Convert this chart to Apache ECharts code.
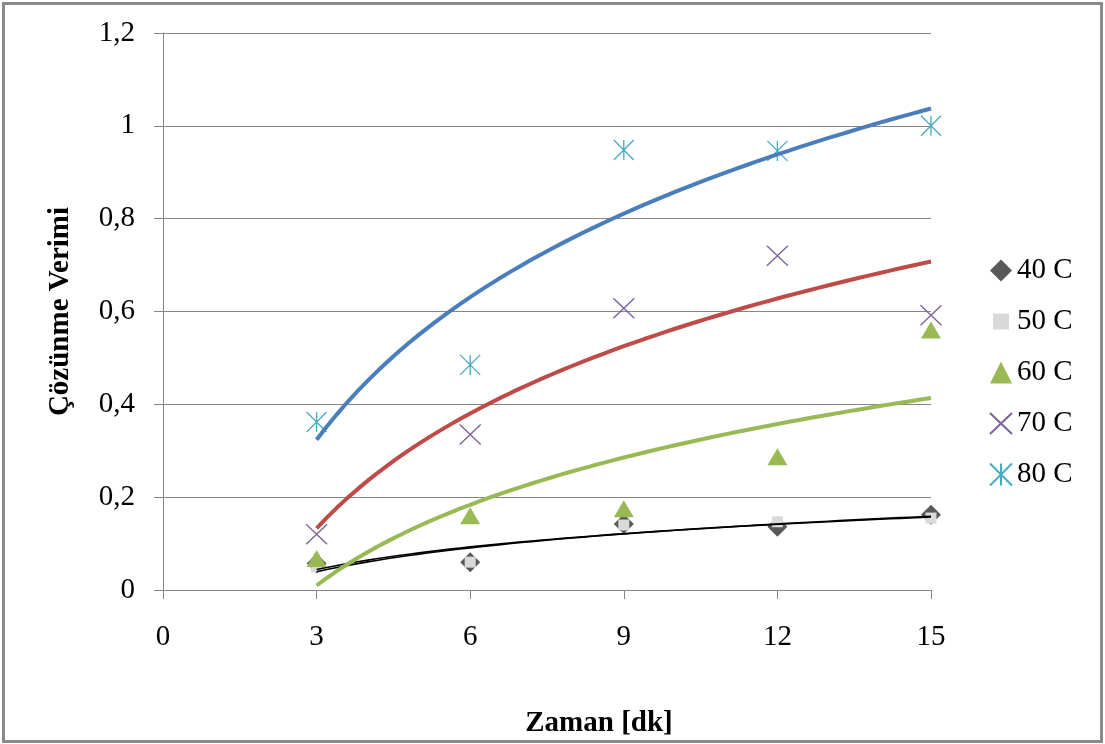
<!DOCTYPE html>
<html>
<head>
<meta charset="utf-8">
<script src="https://cdn.jsdelivr.net/npm/echarts@6/dist/echarts.min.js"></script>
<style>
  html, body { margin: 0; padding: 0; background: #fff; }
  #main { width: 1105px; height: 744px; }
</style>
</head>
<body>
<div id="main"></div>
<script>
// zaman (dk)
const times = [3, 6, 9, 12, 15];
// çözünme verimi, picture okumasi
const y40 = [0.057, 0.060, 0.142, 0.136, 0.162];
const y50 = [0.050, 0.060, 0.140, 0.147, 0.155];
const y60 = [0.068, 0.160, 0.175, 0.287, 0.560];
const y70 = [0.120, 0.335, 0.607, 0.720, 0.592];
const y80 = [0.362, 0.485, 0.948, 0.946, 1.000];
const seriesNames = ['40 C', '50 C', '60 C', '70 C', '80 C'];
const yTicks = [0, 0.2, 0.4, 0.6, 0.8, 1, 1.2];
const xTicks = [0, 3, 6, 9, 12, 15];

const colors = ['#595959', '#d9d9d9', '#98b954', '#7d60a0', '#46aac5'];
const trendColors = ['#000000', '#000000', '#98b954', '#be4b48', '#4a7ebb'];

// logaritmik trend (Excel gibi): y = a*ln(x) + b, en kucuk kareler
function logFit(xs, ys) {
  const lx = xs.map(Math.log);
  const n = xs.length;
  const mx = lx.reduce((s, v) => s + v, 0) / n;
  const my = ys.reduce((s, v) => s + v, 0) / n;
  let sxy = 0, sxx = 0;
  for (let i = 0; i < n; i++) {
    sxy += (lx[i] - mx) * (ys[i] - my);
    sxx += (lx[i] - mx) * (lx[i] - mx);
  }
  const a = sxy / sxx;
  return { a: a, b: my - a * mx };
}

function trendPoints(xs, ys) {
  const f = logFit(xs, ys);
  const pts = [];
  const x0 = xs[0], x1 = xs[xs.length - 1];
  const steps = 60;
  for (let i = 0; i <= steps; i++) {
    const x = x0 + (x1 - x0) * i / steps;
    pts.push([x, f.a * Math.log(x) + f.b]);
  }
  return pts;
}

const allY = [y40, y50, y60, y70, y80];
const symbols = [
  'diamond',
  'rect',
  'triangle',
  'path://M0,0L21,20M21,0L0,20',
  'path://M0,0L20,20M20,0L0,20M10,0L10,20'
];
const sizes = [20, 11, [20, 17], [21, 20], [20, 20]];

const font = "'Liberation Serif', 'Times New Roman', serif";
const gridGray = '#868686';

const scatterSeries = seriesNames.map((name, i) => {
  const stroked = i >= 3;
  return {
    name: name,
    type: 'scatter',
    data: times.map((t, k) => [t, allY[i][k]]),
    symbol: symbols[i],
    symbolSize: sizes[i],
    z: 2,
    itemStyle: stroked
      ? { color: colors[i], borderColor: colors[i], borderWidth: 1.3, opacity: 1 }
      : { color: colors[i], opacity: 1 }
  };
});

const trendSeries = allY.map((ys, i) => ({
  name: seriesNames[i] + ' trend',
  type: 'line',
  data: trendPoints(times, ys),
  showSymbol: false,
  silent: true,
  smooth: false,
  z: 3,
  lineStyle: { color: trendColors[i], width: i < 2 ? 1.6 : 4 }
}));

const chart = echarts.init(document.getElementById('main'), null, { renderer: 'canvas' });

chart.setOption({
  animation: false,
  backgroundColor: '#ffffff',
  textStyle: { fontFamily: font },
  grid: {
    left: 163, right: 174, top: 33, bottom: 154,
    containLabel: false,
    outerBoundsMode: 'none'
  },
  legend: {
    data: seriesNames.map((n, i) => i === 1
      ? { name: n, itemStyle: { borderColor: '#ffffff', borderWidth: 6 } }
      : n),
    orient: 'vertical',
    left: 982,
    top: 251,
    padding: 5,
    itemWidth: 22,
    itemHeight: 22,
    itemGap: 22,
    selectedMode: false,
    textStyle: { fontFamily: font, fontSize: 29, color: '#000', lineHeight: 29 }
  },
  xAxis: {
    type: 'value',
    min: xTicks[0],
    max: xTicks[xTicks.length - 1],
    interval: 3,
    name: 'Zaman [dk]',
    nameLocation: 'middle',
    nameGap: 119,
    nameTextStyle: {
      fontFamily: font, fontSize: 29, fontWeight: 'bold', color: '#000',
      padding: [0, 0, 0, 104]
    },
    axisLine: { show: true, onZero: false, lineStyle: { color: gridGray, width: 1 } },
    axisTick: { show: true, length: 9, lineStyle: { color: gridGray } },
    splitLine: { show: false },
    axisLabel: { fontFamily: font, fontSize: 29, color: '#000', margin: 33 }
  },
  yAxis: {
    type: 'value',
    min: yTicks[0],
    max: yTicks[yTicks.length - 1],
    interval: 0.2,
    name: 'Çözünme Verimi',
    nameLocation: 'middle',
    nameGap: 88,
    nameTextStyle: { fontFamily: font, fontSize: 29, fontWeight: 'bold', color: '#000' },
    axisLine: { show: true, onZero: false, lineStyle: { color: gridGray, width: 1 } },
    axisTick: { show: true, length: 9, lineStyle: { color: gridGray } },
    splitLine: { show: true, lineStyle: { color: gridGray, width: 1 } },
    axisLabel: {
      fontFamily: font, fontSize: 29, color: '#000', margin: 28,
      formatter: v => String(Math.round(v * 10) / 10).replace('.', ',')
    }
  },
  graphic: [{
    type: 'rect',
    shape: { x: 3.5, y: 3.5, width: 1098, height: 738 },
    style: { fill: 'none', stroke: '#8a8a8a', lineWidth: 3 },
    silent: true,
    z: 100
  }],
  series: scatterSeries.concat(trendSeries)
});
</script>
</body>
</html>
